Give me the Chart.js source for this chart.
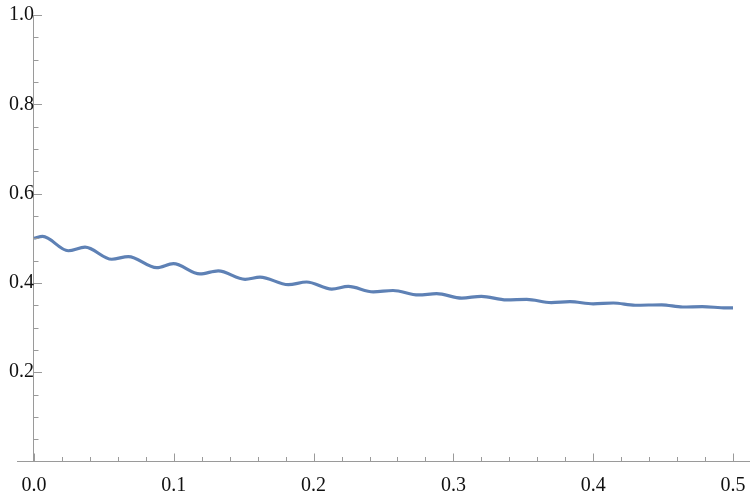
<!DOCTYPE html>
<html>
<head>
<meta charset="utf-8">
<script src="https://cdn.jsdelivr.net/npm/chart.js@4"></script>
<style>
  html, body { margin: 0; padding: 0; background: #fff; }
  #wrap { width: 750px; height: 496px; }
</style>
</head>
<body>
<div id="wrap"><canvas id="chart"></canvas></div>
<script>
// 曲線の値
const xValues = [0, 0.0062, 0.0245, 0.0365, 0.0556, 0.0675, 0.0878, 0.0997, 0.1187, 0.1318,
  0.151, 0.1617, 0.1819, 0.195, 0.213, 0.2248, 0.2427, 0.2568, 0.275, 0.288,
  0.306, 0.320, 0.338, 0.3524, 0.370, 0.3834, 0.400, 0.4144, 0.430, 0.449,
  0.464, 0.478, 0.495, 0.5];
const yValues = [0.500, 0.504, 0.472, 0.480, 0.453, 0.459, 0.434, 0.443, 0.420, 0.427,
  0.408, 0.413, 0.396, 0.402, 0.386, 0.392, 0.380, 0.383, 0.373, 0.376,
  0.366, 0.370, 0.362, 0.363, 0.356, 0.358, 0.353, 0.355, 0.350, 0.351,
  0.346, 0.347, 0.344, 0.344];

// 目盛り
const xMajorTicks = [0, 0.1, 0.2, 0.3, 0.4, 0.5];
const xMinorTicks = [0.02, 0.04, 0.06, 0.08, 0.12, 0.14, 0.16, 0.18, 0.22, 0.24, 0.26, 0.28,
  0.32, 0.34, 0.36, 0.38, 0.42, 0.44, 0.46, 0.48];
const yMajorTicks = [0.2, 0.4, 0.6, 0.8, 1.0];
const yMinorTicks = [0.05, 0.1, 0.15, 0.25, 0.3, 0.35, 0.45, 0.5, 0.55, 0.65, 0.7, 0.75, 0.85, 0.9, 0.95];

const axisColor = '#9a9a9a';
const labelFont = { family: '"Liberation Serif", "Times New Roman", serif', size: 20 };

// 内向きの目盛りを描く
const innerTicks = {
  id: 'innerTicks',
  afterDatasetsDraw(chart) {
    const ctx = chart.ctx;
    const xs = chart.scales.x, ys = chart.scales.y;
    const y0 = ys.getPixelForValue(0);
    const x0 = xs.getPixelForValue(0);
    ctx.save();
    ctx.strokeStyle = axisColor;
    ctx.lineWidth = 1;
    ctx.beginPath();
    xMajorTicks.forEach(v => {
      const px = Math.round(xs.getPixelForValue(v)) + 0.5;
      ctx.moveTo(px, y0); ctx.lineTo(px, y0 - 8);
    });
    xMinorTicks.forEach(v => {
      const px = Math.round(xs.getPixelForValue(v)) + 0.5;
      ctx.moveTo(px, y0); ctx.lineTo(px, y0 - 4.5);
    });
    yMajorTicks.forEach(v => {
      const py = Math.round(ys.getPixelForValue(v)) + 0.5;
      ctx.moveTo(x0, py); ctx.lineTo(x0 + 8, py);
    });
    yMinorTicks.forEach(v => {
      const py = Math.round(ys.getPixelForValue(v)) + 0.5;
      ctx.moveTo(x0, py); ctx.lineTo(x0 + 4.5, py);
    });
    ctx.stroke();
    ctx.restore();
  }
};

new Chart(document.getElementById('chart'), {
  type: 'line',
  data: {
    datasets: [{
      data: xValues.map((x, i) => ({ x: x, y: yValues[i] })),
      borderColor: '#5e81b5',
      borderWidth: 3.2,
      pointRadius: 0,
      fill: false,
      cubicInterpolationMode: 'monotone'
    }]
  },
  options: {
    responsive: true,
    maintainAspectRatio: false,
    animation: false,
    layout: { padding: { left: 17, right: 0, top: 15, bottom: 0 } },
    plugins: { legend: { display: false }, tooltip: { enabled: false } },
    scales: {
      x: {
        type: 'linear',
        min: -0.01216,
        max: 0.51216,
        afterBuildTicks: s => { s.ticks = xMajorTicks.map(v => ({ value: v })); },
        afterFit: s => { s.height = 34.5; s.paddingLeft = 0; s.paddingRight = 0; },
        grid: { display: true, drawOnChartArea: false, drawTicks: false },
        border: { display: true, color: axisColor, width: 1 },
        ticks: {
          padding: 12,
          color: '#111',
          font: labelFont,
          maxRotation: 0,
          autoSkip: false,
          callback: v => v.toFixed(1)
        }
      },
      y: {
        type: 'linear',
        position: { x: 0 },
        min: 0,
        max: 1.0,
        afterBuildTicks: s => { s.ticks = yMajorTicks.map(v => ({ value: v })); },
        afterFit: s => { s.paddingTop = 0; s.paddingBottom = 0; },
        grid: { display: true, drawOnChartArea: false, drawTicks: false },
        border: { display: true, color: axisColor, width: 1 },
        ticks: {
          padding: 8,
          color: '#111',
          font: labelFont,
          autoSkip: false,
          callback: v => v.toFixed(1)
        }
      }
    }
  },
  plugins: [innerTicks]
});
</script>
</body>
</html>
